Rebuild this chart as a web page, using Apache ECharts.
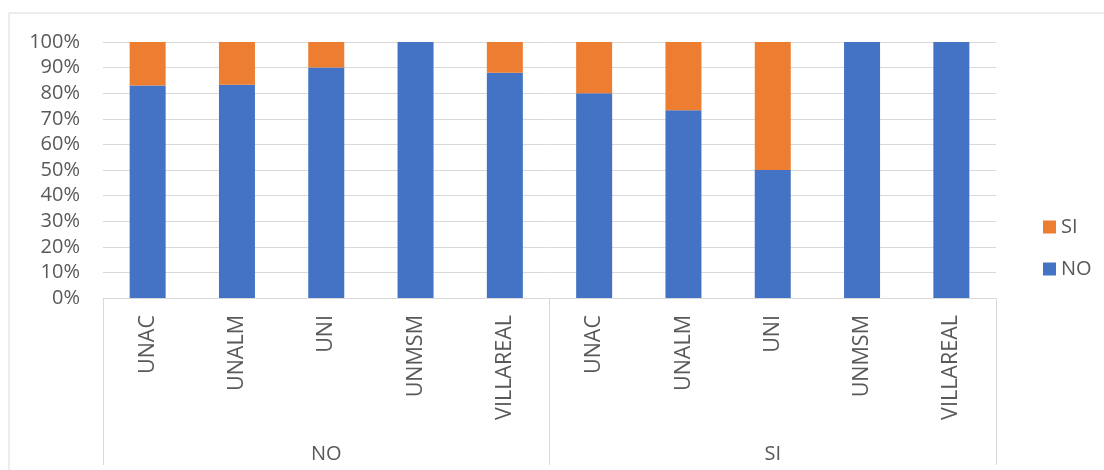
<!DOCTYPE html>
<html>
<head>
<meta charset="utf-8">
<script src="https://cdn.jsdelivr.net/npm/echarts@6/dist/echarts.min.js"></script>
<style>
html,body{margin:0;padding:0;background:#fff;}
#main{width:1104px;height:470px;}
</style>
</head>
<body>
<div id="main"></div>
<script>
// universidades (nivel 1) y grupos (nivel 2)
var universidades=['UNAC','UNALM','UNI','UNMSM','VILLAREAL','UNAC','UNALM','UNI','UNMSM','VILLAREAL'];
var grupos=['NO','SI'];
// porcentajes
var valoresNO=[83,83.3,90,100,88,80,73.3,50,100,100];
var valoresSI=[17,16.7,10,0,12,20,26.7,50,0,0];
var yTicks=[0,10,20,30,40,50,60,70,80,90,100];

var gris='#595959';
var linea='#d9d9d9';
var fuente='Open Sans';

var chart=echarts.init(document.getElementById('main'));
chart.setOption({
    animation:false,
    textStyle:{fontFamily:fuente},
    graphic:[{
        type:'rect',
        shape:{x:9,y:13,width:1300,height:700},
        style:{fill:'none',stroke:linea,lineWidth:1},
        z:-10
    }],
    grid:{left:103,right:108,top:42,bottom:172},
    legend:{
        data:['SI','NO'],
        orient:'vertical',
        left:1038,
        top:212,
        itemWidth:13,
        itemHeight:13,
        itemGap:22,
        icon:'rect',
        textStyle:{color:gris,fontSize:20,fontFamily:fuente}
    },
    xAxis:[{
        type:'category',
        data:universidades,
        axisLine:{show:true,lineStyle:{color:linea,width:1}},
        axisTick:{show:false},
        axisLabel:{rotate:90,margin:17,color:gris,fontSize:21.5,fontFamily:fuente,interval:0}
    },{
        type:'category',
        data:grupos,
        position:'bottom',
        axisLine:{show:false},
        axisTick:{show:true,length:167,lineStyle:{color:linea,width:1}},
        axisLabel:{margin:146,color:gris,fontSize:20,fontFamily:fuente}
    }],
    yAxis:{
        type:'value',
        min:0,max:100,interval:10,
        axisLine:{show:false},
        axisTick:{show:false},
        splitLine:{lineStyle:{color:linea,width:1}},
        axisLabel:{formatter:function(v){return yTicks.indexOf(v)>=0?v+'%':'';},color:gris,fontSize:20,fontFamily:fuente,margin:23}
    },
    series:[{
        name:'NO',
        type:'bar',
        stack:'total',
        xAxisIndex:0,
        data:valoresNO,
        barWidth:36,
        itemStyle:{color:'#4472C4'}
    },{
        name:'SI',
        type:'bar',
        stack:'total',
        xAxisIndex:0,
        data:valoresSI,
        barWidth:36,
        itemStyle:{color:'#ED7D31'}
    }]
});
</script>
</body>
</html>
